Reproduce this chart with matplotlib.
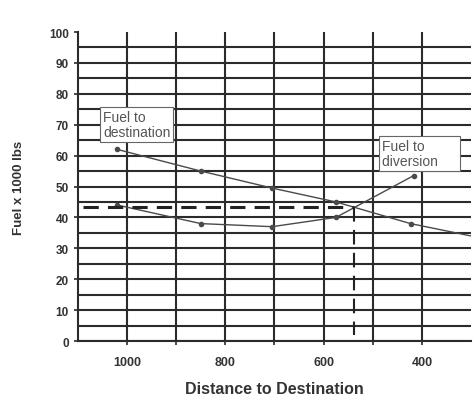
import numpy as np
import matplotlib.pyplot as plt

plt.rcParams['font.family'] = ['Liberation Sans', 'DejaVu Sans']

# data
distance = [1020, 850, 705, 575, 423, 300]
fuel_destination = [62, 55, 49.5, 45, 38, 34]
diversion_distance = [1020, 850, 705, 575, 417]
fuel_diversion = [44, 38, 37, 40, 53.5]

# dashed read-off lines
read_fuel = 43.3
read_distance = 539

x_labelled = [1000, 800, 600, 400]
x_minor = [900, 700, 500]
y_ticks = np.arange(0, 101, 10)
y_minor = np.arange(5, 100, 10)

fig = plt.figure(figsize=(4.77, 4.06), dpi=100)
ax = fig.add_axes([0.1635, 0.1576, 0.8239, 0.7611])

grid_col = '#2b2b2b'
line_col = '#4a4a4a'

ax.set_xlim(1100, 300)
ax.set_ylim(0, 100)

ax.set_xticks(x_labelled)
ax.set_xticks(x_minor, minor=True)
ax.set_yticks(y_ticks)
ax.set_yticks(y_minor, minor=True)

ax.grid(True, which='both', color=grid_col, lw=1.5)
# no horizontal line along the top
ax.yaxis.get_gridlines()[-1].set_visible(False)

for s in ['top', 'right']:
    ax.spines[s].set_visible(False)
for s in ['left', 'bottom']:
    ax.spines[s].set_color(grid_col)
    ax.spines[s].set_linewidth(1.5)

ax.tick_params(axis='both', which='both', color=grid_col, length=3, width=1.2,
               labelsize=8.5, labelcolor='#333333')
ax.tick_params(axis='y', which='minor', length=0)
ax.tick_params(axis='x', pad=8, labelsize=9)
for lab in ax.get_xticklabels() + ax.get_yticklabels():
    lab.set_fontweight('bold')

ax.plot(distance, fuel_destination, color=line_col, lw=1.0)
ax.plot(distance[:-1], fuel_destination[:-1], 'o', color=line_col, ms=3)
ax.plot(diversion_distance, fuel_diversion, color=line_col, lw=1.0,
        marker='o', ms=3)

ax.plot([1089, read_distance], [read_fuel, read_fuel], color='#222222',
        lw=2.2, ls=(0, (5, 3)))
ax.plot([read_distance, read_distance], [read_fuel, 2], color='#222222',
        lw=1.5, ls=(0, (7, 4)))

box = dict(boxstyle='square,pad=0.2', fc='white', ec='#666666', lw=0.8)
ax.text(1049, 74.8, 'Fuel to\ndestination', fontsize=10, color='#555555',
        ha='left', va='top', bbox=box, linespacing=1.1)
ax.text(482, 65.4, 'Fuel to\ndiversion     ', fontsize=10, color='#555555',
        ha='left', va='top', bbox=box, linespacing=1.1)

ax.set_xlabel('Distance to Destination', fontsize=11.5, fontweight='bold',
              color='#333333', labelpad=9)
ax.set_ylabel('Fuel x 1000 lbs', fontsize=9.5, fontweight='bold',
              color='#333333', labelpad=17)

fig.savefig('out.png', dpi=100)
